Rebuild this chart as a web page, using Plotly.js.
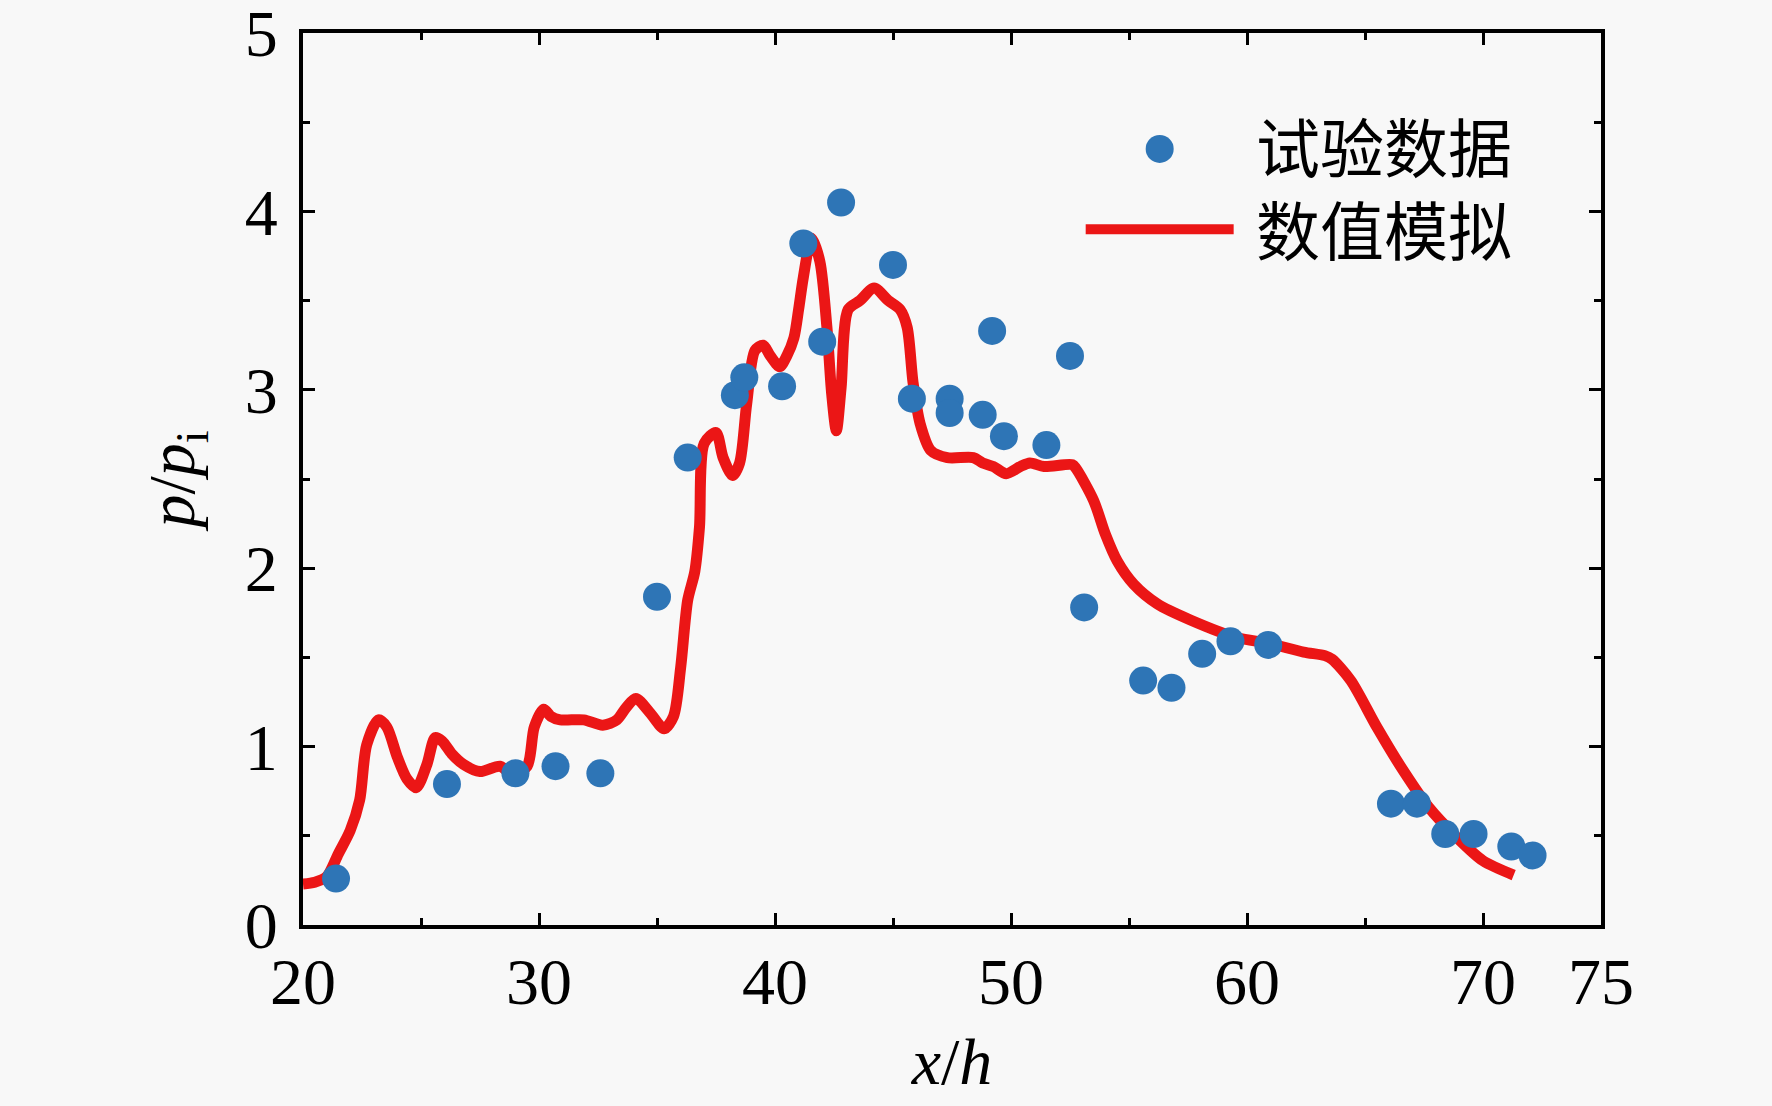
<!DOCTYPE html>
<html>
<head>
<meta charset="utf-8">
<script src="https://cdn.plot.ly/plotly-3.0.1.min.js"></script>
<style>
  body { margin: 0; background: #f8f8f8; }
</style>
</head>
<body>
<div id="pressurePlot" style="width:1772px;height:1106px;"></div>
<script>
// test points (x/h, p/pi)
let test_x = [21.4, 26.1, 29.0, 30.7, 32.6, 35.0, 36.3, 38.3, 38.7, 40.3, 41.2, 42.0,
  42.8, 45.0, 45.8, 47.4, 47.4, 48.8, 49.2, 49.7, 51.5, 52.5, 53.1, 55.6, 56.8,
  58.1, 59.3, 60.9, 66.1, 67.2, 68.4, 69.6, 71.2, 72.1];
let test_y = [0.26, 0.79, 0.85, 0.89, 0.85, 1.84, 2.62, 2.97, 3.07, 3.02, 3.82, 3.27,
  4.05, 3.70, 2.95, 2.95, 2.87, 2.86, 3.33, 2.74, 2.69, 3.19, 1.78, 1.37, 1.33,
  1.52, 1.59, 1.57, 0.68, 0.68, 0.51, 0.51, 0.44, 0.39];

// numerical simulation curve
let sim_x = [20.0, 20.5, 21.0, 21.5, 22.0, 22.4, 22.7, 23.2, 23.55, 24.0, 24.4, 24.8,
  25.25, 25.6, 25.9, 26.3, 26.8, 27.5, 28.35, 28.9, 29.5, 29.8, 30.2, 30.5, 30.9,
  31.9, 32.7, 33.3, 33.7, 34.1, 34.7, 35.3, 35.7, 36.0, 36.3, 36.6, 36.8, 37.0,
  37.5, 37.8, 38.2, 38.5, 38.8, 39.15, 39.5, 39.8, 40.2, 40.5, 40.8, 41.0, 41.2,
  41.55, 41.9, 42.2, 42.4, 42.6, 42.8, 43.1, 43.6, 44.2, 44.8, 45.3, 45.6, 45.85,
  46.15, 46.6, 47.3, 48.4, 48.8, 49.25, 49.8, 50.4, 50.8, 51.4, 52.6, 52.75, 53.5,
  54.0, 54.5, 55.2, 56.2, 57.6, 59.6, 60.9, 62.4, 63.3, 63.6, 64.4, 65.5, 66.6,
  67.7, 68.9, 70.0, 71.3];
let sim_y = [0.23, 0.24, 0.27, 0.40, 0.53, 0.70, 1.01, 1.15, 1.11, 0.94, 0.82, 0.77,
  0.90, 1.05, 1.03, 0.96, 0.90, 0.86, 0.89, 0.84, 0.89, 1.11, 1.21, 1.17, 1.15,
  1.15, 1.12, 1.15, 1.22, 1.27, 1.19, 1.10, 1.17, 1.44, 1.82, 1.98, 2.23, 2.70,
  2.76, 2.62, 2.52, 2.59, 2.92, 3.22, 3.25, 3.19, 3.13, 3.19, 3.29, 3.45, 3.63,
  3.85, 3.72, 3.35, 2.98, 2.77, 3.01, 3.45, 3.50, 3.57, 3.50, 3.45, 3.35, 3.04,
  2.81, 2.66, 2.62, 2.62, 2.59, 2.57, 2.53, 2.57, 2.59, 2.57, 2.58, 2.56, 2.38,
  2.19, 2.04, 1.91, 1.80, 1.71, 1.61, 1.58, 1.53, 1.51, 1.49, 1.37, 1.11, 0.87,
  0.66, 0.49, 0.36, 0.28];

// axis ticks
let x_tickvals = [20, 30, 40, 50, 60, 70, 75];
let y_tickvals = [0, 1, 2, 3, 4, 5];
let legend_names = ['试验数据', '数值模拟'];

let blue = '#2e75b6';
let red = 'rgb(235,22,22)';
let serif = 'Liberation Serif, Times New Roman, serif';
let cjk = 'Noto Sans CJK SC, sans-serif';

let test_trace = {
  x: test_x,
  y: test_y,
  type: 'scatter',
  mode: 'markers',
  name: legend_names[0],
  marker: { color: blue, size: 28, line: { width: 0 } }
};

let sim_trace = {
  x: sim_x,
  y: sim_y,
  type: 'scatter',
  mode: 'lines',
  name: legend_names[1],
  line: { color: red, width: 11, shape: 'spline', smoothing: 0.8 }
};

let axis_common = {
  showline: true,
  linecolor: 'black',
  linewidth: 4,
  mirror: 'ticks',
  ticks: 'inside',
  ticklen: 12,
  tickwidth: 3,
  tickcolor: 'black',
  showgrid: false,
  zeroline: false,
  automargin: false,
  ticklabeloverflow: 'allow',
  tickfont: { family: serif, size: 66, color: 'black' }
};

let layout = {
  width: 1772,
  height: 1106,
  margin: { l: 303, r: 171, t: 33, b: 181, pad: 0 },
  paper_bgcolor: '#f8f8f8',
  plot_bgcolor: '#f8f8f8',
  showlegend: false,
  xaxis: Object.assign({}, axis_common, {
    range: [20, 75],
    tickmode: 'array',
    tickvals: x_tickvals,
    ticktext: x_tickvals.map(String),
    ticklabelstandoff: -4,
    minor: { tick0: 20, dtick: 5, ticks: 'inside', ticklen: 7, tickwidth: 3, tickcolor: 'black' },
    title: {
      text: '<i>x</i>/<i>h</i>',
      font: { family: serif, size: 66, color: 'black' },
      standoff: 22
    }
  }),
  yaxis: Object.assign({}, axis_common, {
    range: [0, 5],
    tickmode: 'array',
    tickvals: y_tickvals,
    ticktext: y_tickvals.map(String),
    ticklabelstandoff: 8,
    minor: { tick0: 0, dtick: 0.5, ticks: 'inside', ticklen: 7, tickwidth: 3, tickcolor: 'black' },
    title: {
      text: '<i>p</i>/<i>p</i><sub>i</sub>',
      font: { family: serif, size: 66, color: 'black' },
      standoff: 30
    }
  }),
  // legend drawn by hand so the line sample can be as long as in the original
  shapes: [
    {
      type: 'circle', xref: 'paper', yref: 'paper',
      xsizemode: 'pixel', ysizemode: 'pixel',
      xanchor: 0.660, yanchor: 0.870,
      x0: -14, x1: 14, y0: -14, y1: 14,
      fillcolor: blue, line: { width: 0 }
    },
    {
      type: 'line', xref: 'paper', yref: 'paper',
      x0: 0.603, x1: 0.717, y0: 0.780, y1: 0.780,
      line: { color: red, width: 10 }
    }
  ],
  annotations: [
    {
      text: legend_names.join('<br>'), xref: 'paper', yref: 'paper',
      x: 0.733, y: 0.8285, xanchor: 'left', yanchor: 'middle', showarrow: false,
      align: 'left',
      font: { family: cjk, size: 64, color: 'black' }
    }
  ]
};

Plotly.newPlot('pressurePlot', [sim_trace, test_trace], layout, { displayModeBar: false, staticPlot: true });
</script>
</body>
</html>
